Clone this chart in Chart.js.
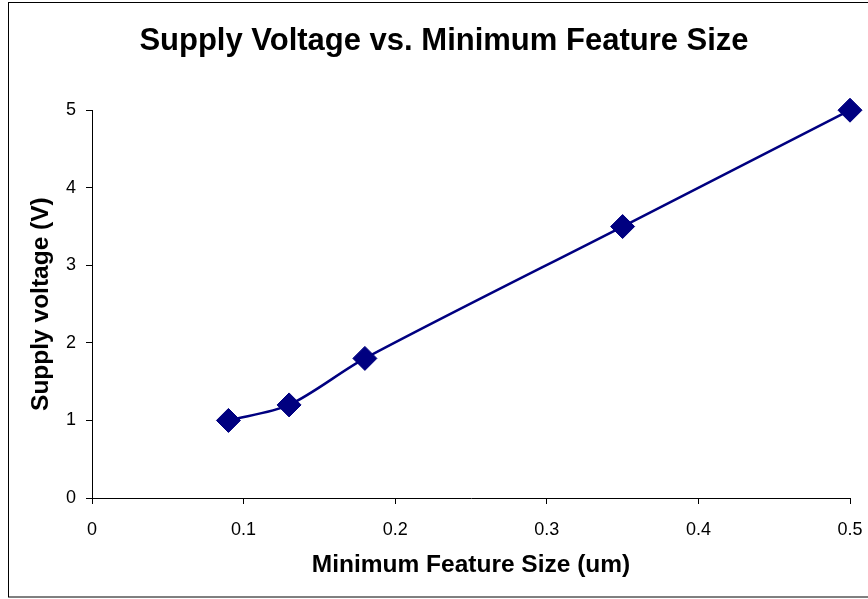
<!DOCTYPE html>
<html>
<head>
<meta charset="utf-8">
<script src="https://cdn.jsdelivr.net/npm/chart.js@4/dist/chart.umd.min.js"></script>
<style>
  html, body { margin: 0; padding: 0; background: #fff; }
  canvas { display: block; }
</style>
</head>
<body>
<canvas id="voltageChart" width="868" height="599"></canvas>
<script>
// Data
const featureSizes = [0.09, 0.13, 0.18, 0.35, 0.5];   // um
const supplyVoltages = [1, 1.2, 1.8, 3.5, 5];          // V
const xTicks = [0, 0.1, 0.2, 0.3, 0.4, 0.5];
const yTicks = [0, 1, 2, 3, 4, 5];

const FONT = '"Liberation Sans", Arial, sans-serif';
const NAVY = '#000080';

// White page with the thin outer frame of the chart object
const framePlugin = {
    id: 'frame',
    beforeDraw(chart) {
        const ctx = chart.ctx;
        ctx.save();
        ctx.fillStyle = '#ffffff';
        ctx.fillRect(0, 0, chart.width, chart.height);
        ctx.strokeStyle = '#000000';
        ctx.lineWidth = 1;
        ctx.strokeRect(8.5, 2.5, 900, 594.5);
        ctx.restore();
    }
};

const points = featureSizes.map((x, i) => ({ x: x, y: supplyVoltages[i] }));

new Chart(document.getElementById('voltageChart').getContext('2d'), {
    type: 'scatter',
    data: {
        datasets: [{
            label: 'Supply voltage',
            data: points,
            showLine: true,
            borderColor: NAVY,
            borderWidth: 2.5,
            tension: 0.3,
            pointStyle: 'rectRot',
            pointRadius: 12,
            pointHoverRadius: 12,
            pointBackgroundColor: NAVY,
            pointBorderColor: NAVY,
            pointBorderWidth: 1,
            clip: false
        }]
    },
    options: {
        responsive: false,
        animation: false,
        layout: {
            padding: { left: 20, right: 0, top: 0, bottom: 0 }
        },
        plugins: {
            legend: { display: false },
            tooltip: { enabled: false },
            title: {
                display: true,
                text: 'Supply Voltage vs. Minimum Feature Size',
                color: '#000',
                font: { family: FONT, size: 31, weight: 'bold' },
                padding: { top: 23, bottom: 50 }
            }
        },
        scales: {
            x: {
                type: 'linear',
                min: 0,
                max: 0.5,
                afterBuildTicks(scale) {
                    scale.ticks = xTicks.map(v => ({ value: v }));
                },
                afterFit(scale) {
                    scale.height = 101;
                    scale.paddingRight = 18;
                },
                grid: {
                    drawOnChartArea: false,
                    drawTicks: true,
                    tickLength: 6,
                    tickColor: '#000'
                },
                border: { display: true, color: '#000', width: 1 },
                ticks: {
                    color: '#000',
                    padding: 15,
                    font: { family: FONT, size: 18 },
                    callback: v => String(v)
                },
                title: {
                    display: true,
                    text: 'Minimum Feature Size (um)',
                    color: '#000',
                    font: { family: FONT, size: 24.5, weight: 'bold' },
                    padding: { top: 0, bottom: 19 }
                }
            },
            y: {
                type: 'linear',
                min: 0,
                max: 5,
                afterBuildTicks(scale) {
                    scale.ticks = yTicks.map(v => ({ value: v }));
                },
                afterFit(scale) {
                    scale.width = 72;
                },
                grid: {
                    drawOnChartArea: false,
                    drawTicks: true,
                    tickLength: 6,
                    tickColor: '#000'
                },
                border: { display: true, color: '#000', width: 1 },
                ticks: {
                    color: '#000',
                    padding: 10,
                    font: { family: FONT, size: 18 }
                },
                title: {
                    display: true,
                    text: 'Supply voltage (V)',
                    color: '#000',
                    font: { family: FONT, size: 24.5, weight: 'bold' },
                    padding: { top: 7, bottom: 0 }
                }
            }
        }
    },
    plugins: [framePlugin]
});
</script>
</body>
</html>
